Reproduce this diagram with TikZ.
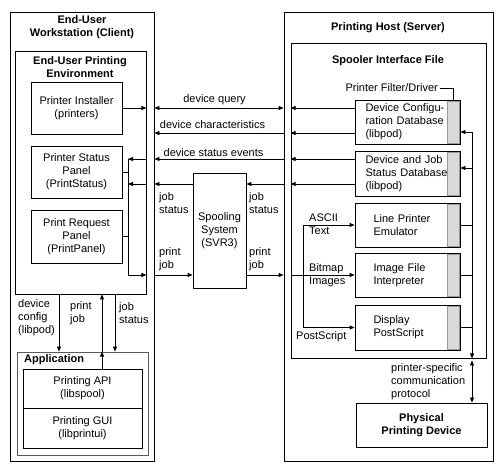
\documentclass[tikz,border=0pt]{standalone}
\usepackage{fontspec}
\setmainfont{Liberation Sans}
\usetikzlibrary{arrows.meta}

\begin{document}
\begin{tikzpicture}[x=1pt, y=-1pt,
    every node/.style={font=\fontsize{11}{13}\selectfont, inner sep=0pt},
    box/.style={draw, line width=0.8, align=center},
    dbox/.style={draw, line width=0.8, align=left, text width=#1},
    ttl/.style={font=\fontsize{11}{13}\selectfont\bfseries, align=center},
    lbl/.style={align=left, anchor=west},
    ln/.style={line width=0.8},
    arr/.style={line width=0.8, -{Triangle[length=5pt, width=4pt]}},
    darr/.style={line width=0.8, {Triangle[length=5pt, width=4pt]}-{Triangle[length=5pt, width=4pt]}},
    strip/.style={fill=gray!30, draw=gray!80, line width=0.5}]
    \useasboundingbox (0,0) rectangle (504,473);

    %rows and columns
    \coordinate (yq) at (0,108);
    \coordinate (yc) at (0,133);
    \coordinate (ye) at (0,159);
    \coordinate (yj) at (0,184);
    \coordinate (yp) at (0,275);
    \coordinate (yfc) at (0,132);
    \coordinate (yfj) at (0,168);
    \coordinate (xb) at (128,0);
    \coordinate (xf) at (303,0);
    \coordinate (xr) at (472,0);
    \coordinate (xd) at (59,0);
    \coordinate (xpj) at (102,0);
    \coordinate (xjs) at (115,0);

    % client
    \node[box, minimum width=144, minimum height=449] (client) at (82,236.5) {};
        \node[ttl] (clientttl) at (82,27) {End-User\\Workstation (Client)};
    \node[box, minimum width=131, minimum height=243] (env) at (80.5,172.5) {};
        \node[ttl] (envttl) at (80,67.5) {End-User Printing\\Environment};
    \node[box, minimum width=91, minimum height=52] (inst) at (76.5,108)
        {Printer Installer\\(printers)};
    \node[box, minimum width=91, minimum height=52] (stat) at (76.5,172)
        {Printer Status\\Panel\\(PrintStatus)};
    \node[box, minimum width=91, minimum height=53] (req) at (76.5,236.5)
        {Print Request\\Panel\\(PrintPanel)};

    \node[box, draw=gray!70!black, minimum width=131, minimum height=103] (app) at (82.5,403.5) {};
        \node[ttl, anchor=west] (appttl) at (24,359.5) {Application};
    \node[box, minimum width=119, minimum height=39] (api) at (82.5,388.5)
        {Printing API\\(libspool)};
    \node[box, minimum width=119, minimum height=40] (gui) at (82.5,428)
        {Printing GUI\\(libprintui)};

    % spooler
    \node[box, minimum width=53, minimum height=115] (spool) at (219.5,230.5)
        {Spooling\\System\\(SVR3)};

    % server
    \node[box, minimum width=209, minimum height=449] (host) at (388.5,236.5) {};
        \node[ttl] (hostttl) at (388,28) {Printing Host (Server)};
    \node[box, minimum width=195, minimum height=315] (sif) at (388.5,200.5) {};
        \node[ttl] (sifttl) at (388,61) {Spooler Interface File};

    \node[dbox=84, minimum width=105, minimum height=44] (cfg) at (407.5,122)
        {Device Configu-\\ration Database\\(libpod)};
    \node[dbox=84, minimum width=105, minimum height=45] (jobdb) at (407.5,173.5)
        {Device and Job\\Status Database\\(libpod)};
    \node[dbox=68, minimum width=105, minimum height=44] (lpe) at (407.5,225)
        {Line Printer\\Emulator};
    \node[dbox=68, minimum width=105, minimum height=44] (ifi) at (407.5,275)
        {Image File\\Interpreter};
    \node[dbox=68, minimum width=105, minimum height=45] (dps) at (407.5,327.5)
        {Display\\PostScript};
    \foreach \b in {cfg,jobdb,lpe,ifi,dps}
        \draw[strip] ([xshift=-13pt, yshift=-1.5pt]\b.north east)
            rectangle ([xshift=-1.2pt, yshift=1.5pt]\b.south east);

    \node[lbl, anchor=east] (lpfd) at (438,88) {Printer Filter/Driver};
        \draw[ln] ([xshift=2pt]lpfd.east) -| ([xshift=-7pt, yshift=-1.5pt]cfg.north east);

    \node[box, minimum width=131, minimum height=44, font=\fontsize{11}{13}\selectfont\bfseries] (dev)
        at (421.5,425) {Physical\\Printing Device};

    % device query
    \draw[arr] (inst.east) -- (env.east |- inst.east);
    \draw[darr] (client.east |- yq) -- (host.west |- yq);
    \draw[arr] (cfg.west |- yq) -- (sif.west |- yq);
        \node (lq) at (214.5,100) {device query};

    % device characteristics
    \draw[arr] (host.west |- yc) -- (client.east |- yc);
    \draw[arr] (cfg.west |- yc) -- (sif.west |- yc);
        \node (lc) at (212.5,125) {device characteristics};

    % device status events
    \draw[arr] (host.west |- ye) -- (client.east |- ye);
    \draw[arr] (jobdb.west |- ye) -- (sif.west |- ye);
    \draw[arr] (env.east |- ye) -- (xb |- ye);
        \node (le) at (213.5,153) {device status events};

    % job status
    \draw[arr] (spool.west |- yj) -- (client.east |- yj);
    \draw[arr] (host.west |- yj) -- (spool.east |- yj);
    \draw[arr] (jobdb.west |- yj) -- (sif.west |- yj);
    \draw[arr] (env.east |- yj) -- (xb |- yj);
        \node[lbl] (ljl) at (159,203.5) {job\\status};
        \node[lbl] (ljr) at (249,203.5) {job\\status};

    % print job
    \draw[ln] (stat.east) -- (xb |- stat.east);
    \draw[ln] (req.east) -- (xb |- req.east);
    \draw[ln] (xb |- ye) -- (xb |- yp);
    \draw[arr] (xb |- yp) -- (env.east |- yp);
    \draw[arr] (client.east |- yp) -- (spool.west |- yp);
    \draw[arr] (spool.east |- yp) -- (host.west |- yp);
    \draw[arr] (sif.west |- yp) -- (ifi.west);
        \node[lbl] (lpl) at (159,259) {print\\job};
        \node[lbl] (lpr) at (249,259) {print\\job};

    % filter inputs
    \draw[ln] (xf |- lpe.west) -- (xf |- dps.west);
    \draw[arr] (xf |- lpe.west) -- (lpe.west);
    \draw[arr] (xf |- dps.west) -- (dps.west);
        \node[lbl] (lascii) at (309,224) {ASCII\\Text};
        \node[lbl] (lbit) at (309,275) {Bitmap\\Images};
        \node[lbl] (lps) at (296,337) {PostScript};

    % device side
    \draw[ln] (lpe.east) -- (xr |- lpe.east);
    \draw[ln] (ifi.east) -- (xr |- ifi.east);
    \draw[ln] (dps.east) -- (xr |- dps.east);
    \draw[arr] (xr |- yfc) -- (cfg.east |- yfc);
    \draw[arr] (xr |- yfj) -- (jobdb.east |- yfj);
    \draw[arr] (xr |- yfc) -- (xr |- sif.south);
    \draw[darr, shorten <=2pt] (xr |- sif.south) -- (xr |- dev.north);
        \node[lbl] (lproto) at (391,382) {printer-specific\\communication\\protocol};

    % application links
    \draw[arr] (xd |- env.south) -- (xd |- app.north);
    \draw[arr] (xpj |- api.north) -- (xpj |- app.north);
    \draw[arr] (xpj |- app.north) -- (xpj |- env.south);
    \draw[arr] (xjs |- env.south) -- (xjs |- app.north);
        \node[lbl] (ldc) at (18,318) {device\\config\\(libpod)};
        \node[lbl] (lpj) at (70,313) {print\\job};
        \node[lbl] (ljs) at (119,313) {job\\status};
\end{tikzpicture}
\end{document}
